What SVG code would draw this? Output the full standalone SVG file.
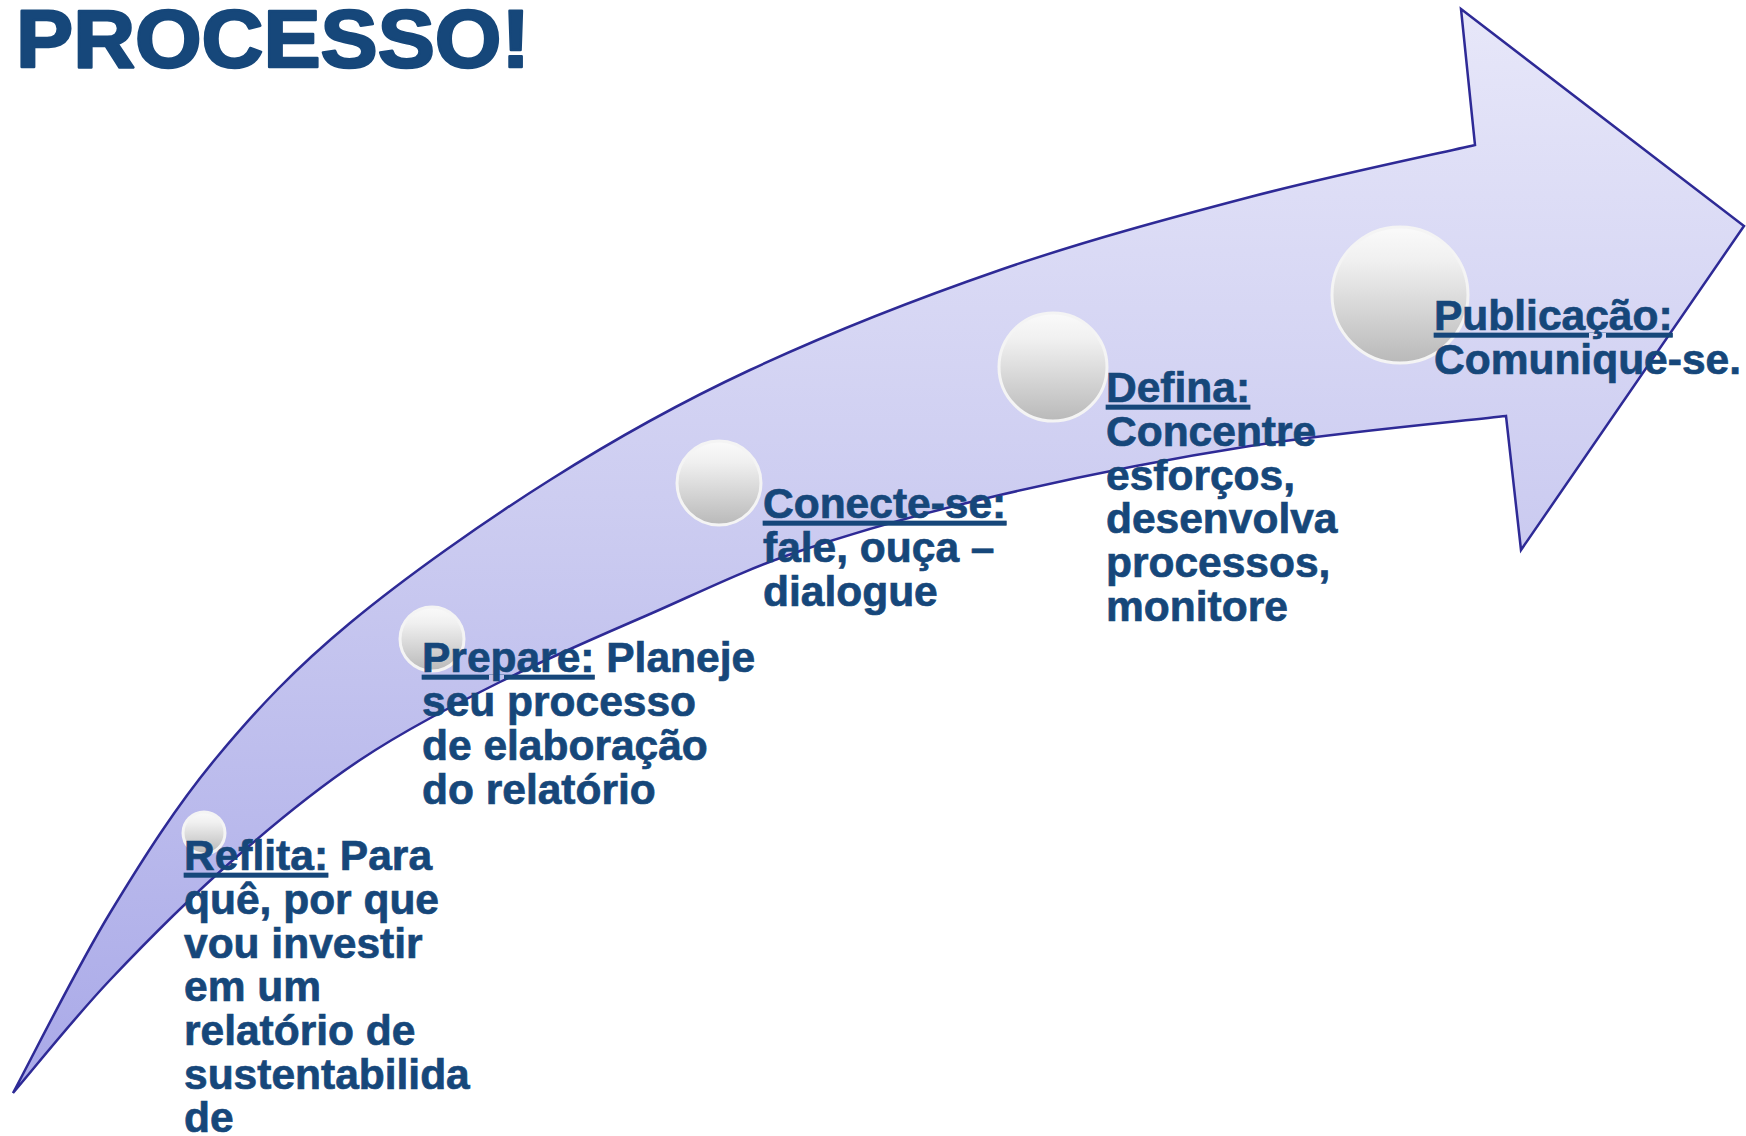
<svg xmlns="http://www.w3.org/2000/svg" width="1746" height="1136" viewBox="0 0 1746 1136">
  <defs>
    <linearGradient id="arrowFill" gradientUnits="userSpaceOnUse" x1="0" y1="9" x2="0" y2="1093">
      <stop offset="0" stop-color="#E7E7F9"/>
      <stop offset="0.5" stop-color="#CACAF0"/>
      <stop offset="1" stop-color="#A9A9E8"/>
    </linearGradient>
    <linearGradient id="ball" x1="0" y1="0" x2="0" y2="1">
      <stop offset="0" stop-color="#FAFAFA"/>
      <stop offset="0.25" stop-color="#F0F0F0"/>
      <stop offset="1" stop-color="#B9B9B9"/>
    </linearGradient>
    <style>
      .txt { font-family: "Liberation Sans", Arial, sans-serif; font-weight: bold; font-size: 42.5px; fill: #16477A; stroke: #16477A; stroke-width: 0.7; }
      .ul { text-decoration: underline; }
      .ball { fill: url(#ball); stroke: #F4F4F4; stroke-width: 3; }
      .title { font-family: "Liberation Sans", Arial, sans-serif; font-weight: bold; font-size: 82px; fill: #16477A; stroke: #16477A; stroke-width: 2.5; stroke-linejoin: round; }
    </style>
  </defs>
  <rect width="1746" height="1136" fill="#FFFFFF"/>

  <g id="connectors">
    <path id="process-arrow" fill="url(#arrowFill)" stroke="#2E2A96" stroke-width="2.5" stroke-linejoin="miter"
      d="M13,1093
         C29.2,1063 76,969 110,913
         C144,857 177,805 217,757
         C257,709 294.5,669 350,623
         C405.5,577 483.3,522 550,480
         C616.7,437.8 675,405 750,370
         C825,335 916.7,298.8 1000,270
         C1083.3,241.2 1170.8,217.8 1250,197
         C1329.2,176.2 1437.5,153.7 1475,145
         L1461,9 L1744,226 L1521,550 L1506,416
         C1463.3,421 1334.3,432.8 1250,446
         C1165.7,459.2 1075,477.5 1000,495
         C925,512.5 858.3,531.2 800,551
         C741.7,570.8 700,592.2 650,614
         C600,635.8 548.3,657.7 500,682
         C451.7,706.3 404.5,730.3 360,760
         C315.5,789.7 274.7,823.3 233,860
         C191.3,896.7 146.7,941.2 110,980
         C73.3,1018.8 29.2,1074.2 13,1093 Z"/>
  </g>

  <g id="title">
    <text class="title" x="16" y="67" textLength="514" lengthAdjust="spacingAndGlyphs">PROCESSO!</text>
  </g>

  <g id="node-reflita">
    <circle class="ball" cx="204" cy="833" r="21"/>
    <text class="txt" x="184" y="870"><tspan class="ul">Reflita:</tspan> Para</text>
    <text class="txt" x="184" y="914">quê, por que</text>
    <text class="txt" x="184" y="958">vou investir</text>
    <text class="txt" x="184" y="1001">em um</text>
    <text class="txt" x="184" y="1045">relatório de</text>
    <text class="txt" x="184" y="1089">sustentabilida</text>
    <text class="txt" x="184" y="1132">de</text>
  </g>

  <g id="node-prepare">
    <circle class="ball" cx="432" cy="639" r="32"/>
    <text class="txt" x="422" y="672"><tspan class="ul">Prepare:</tspan> Planeje</text>
    <text class="txt" x="422" y="716">seu processo</text>
    <text class="txt" x="422" y="760">de elaboração</text>
    <text class="txt" x="422" y="804">do relatório</text>
  </g>

  <g id="node-conecte">
    <circle class="ball" cx="719" cy="483" r="42"/>
    <text class="txt" x="763" y="518"><tspan class="ul">Conecte-se:</tspan></text>
    <text class="txt" x="763" y="562">fale, ouça –</text>
    <text class="txt" x="763" y="606">dialogue</text>
  </g>

  <g id="node-defina">
    <circle class="ball" cx="1053" cy="367" r="54"/>
    <text class="txt" x="1106" y="402"><tspan class="ul">Defina:</tspan></text>
    <text class="txt" x="1106" y="446">Concentre</text>
    <text class="txt" x="1106" y="490">esforços,</text>
    <text class="txt" x="1106" y="533">desenvolva</text>
    <text class="txt" x="1106" y="577">processos,</text>
    <text class="txt" x="1106" y="621">monitore</text>
  </g>

  <g id="node-publicacao">
    <circle class="ball" cx="1400" cy="295" r="68"/>
    <text class="txt" x="1434" y="330"><tspan class="ul">Publicação:</tspan></text>
    <text class="txt" x="1434" y="374">Comunique-se.</text>
  </g>
</svg>
